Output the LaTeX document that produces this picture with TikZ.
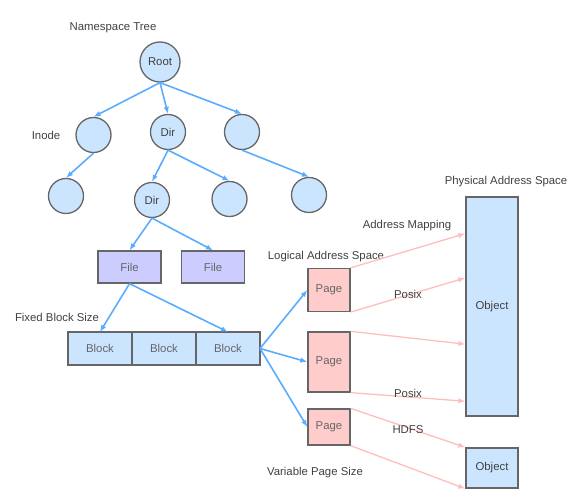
\documentclass[tikz,border=0pt]{standalone}
\usepackage{fontspec}
\setmainfont{Liberation Sans}
\usepackage{xcolor}
\usetikzlibrary{arrows.meta, positioning, calc}
\definecolor{treeBlue}{HTML}{CCE5FF}
\definecolor{fileLilac}{HTML}{CCCCFF}
\definecolor{pagePink}{HTML}{FFCCCC}
\definecolor{edgeGray}{HTML}{666666}
\definecolor{linkBlue}{HTML}{5AACFF}
\definecolor{mapPink}{HTML}{FFBDBD}
\definecolor{labelGray}{HTML}{404040}

\begin{document}
\begin{tikzpicture}[x=1bp, y=1bp, node distance=0pt, font=\fontsize{11.4}{13}\selectfont]
        \tikzstyle{inode} = [circle, minimum size=35bp, inner sep=0pt, fill=treeBlue, draw=edgeGray, line width=1.3bp, text=labelGray]
        \tikzstyle{filebox} = [rectangle, minimum width=63bp, minimum height=32bp, fill=fileLilac, draw=edgeGray, line width=1.3bp, text=edgeGray]
        \tikzstyle{blockbox} = [rectangle, minimum width=64bp, minimum height=33bp, outer sep=0pt, fill=treeBlue, draw=edgeGray, line width=1.3bp, text=edgeGray]
        \tikzstyle{pagebox} = [rectangle, minimum width=42bp, fill=pagePink, draw=edgeGray, line width=1.3bp, text=edgeGray]
        \tikzstyle{objbox} = [rectangle, minimum width=52bp, fill=treeBlue, draw=edgeGray, line width=1.3bp, text=labelGray]
        \tikzstyle{caption} = [text=labelGray]
        \tikzstyle{arrow} = [-{Latex[length=7bp, width=5.5bp]}, line width=1.6bp, linkBlue]
        \tikzstyle{maparrow} = [-{Latex[length=7bp, width=5.5bp]}, line width=1.3bp, mapPink]

        \useasboundingbox (0,0) rectangle (580,500);

        % namespace tree
        \node[inode, minimum size=40bp] at (160,438) (root) {Root};
        \node[inode] at (93.5,365) (inodeA) {};
        \node[inode] at (168,368) (dirA) {Dir};
        \node[inode] at (242,368) (nodeR) {};
        \node[inode] at (66,304) (leafL) {};
        \node[inode] at (152,300) (dirB) {Dir};
        \node[inode] at (229.5,301) (leafM) {};
        \node[inode] at (309,305) (leafR) {};

        \node[filebox] at (129.5,233) (file1) {File};
        \node[filebox] at (213,233) (file2) {File};

        % blocks
        \node[blockbox] at (100,151.5) (block1) {Block};
        \node[blockbox, right=of block1] (block2) {Block};
        \node[blockbox, right=of block2] (block3) {Block};

        % pages and objects
        \node[pagebox, minimum height=43bp] at (329,210) (page1) {Page};
        \node[pagebox, minimum height=60bp] at (329,138) (page2) {Page};
        \node[pagebox, minimum height=36bp] at (329,73) (page3) {Page};
        \node[objbox, minimum height=219bp] at (492,193.5) (objBig) {Object};
        \node[objbox, minimum height=40bp] at (492,32) (objSmall) {Object};

        % captions
        \node[caption] at (113,472) (treeCap) {Namespace Tree};
        \node[caption] at (46,365) (inodeCap) {Inode};
        \node[caption] at (57,183) (fixedCap) {Fixed Block Size};
        \node[caption] at (506,318) (physCap) {Physical Address Space};
        \node[caption] at (407,274) (mapCap) {Address Mapping};
        \node[caption] at (326,243) (logicCap) {Logical Address Space};
        \node[caption] at (315,27) (varCap) {Variable Page Size};

        \draw[arrow] (root.south) -- (inodeA.north);
        \draw[arrow] (root.south) -- (dirA.north);
        \draw[arrow] (root.south) -- (nodeR.north);
        \draw[arrow] (inodeA.south) -- (leafL.north);
        \draw[arrow] (dirA.south) -- (dirB.north);
        \draw[arrow] (dirA.south) -- (leafM.north);
        \draw[arrow] (nodeR.south) -- (leafR.north);
        \draw[arrow] (dirB.south) -- (file1.north);
        \draw[arrow] (dirB.south) -- (file2.north);
        \draw[arrow] (file1.south) -- (block1.north);
        \draw[arrow] (file1.south) -- (block3.north);
        \draw[arrow] (block3.east) -- (page1.west);
        \draw[arrow] (block3.east) -- (page2.west);
        \draw[arrow] (block3.east) -- (page3.west);

        \draw[maparrow] (page1.north east) -- ($(objBig.north west)!0.169!(objBig.south west)$);
        \draw[maparrow] (page1.south east) -- node[caption, pos=0.5, yshift=1bp] {Posix} ($(objBig.north west)!0.37!(objBig.south west)$);
        \draw[maparrow] (page2.north east) -- ($(objBig.north west)!0.671!(objBig.south west)$);
        \draw[maparrow] (page2.south east) -- node[caption, pos=0.5, yshift=3bp] {Posix} ($(objBig.north west)!0.93!(objBig.south west)$);
        \draw[maparrow] (page3.north east) -- node[caption, pos=0.5, yshift=-2bp] {HDFS} (objSmall.north west);
        \draw[maparrow] (page3.south east) -- (objSmall.south west);
    \end{tikzpicture}
\end{document}
